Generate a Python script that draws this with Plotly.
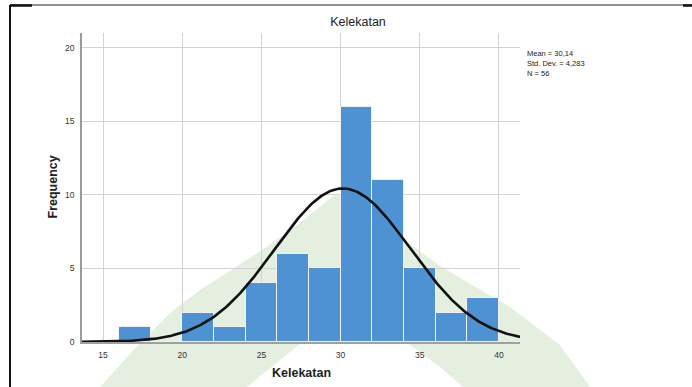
import numpy as np
import plotly.graph_objects as go

# ---- data ----
bin_left = [16, 18, 20, 22, 24, 26, 28, 30, 32, 34, 36, 38]
counts = [1, 0, 2, 1, 4, 6, 5, 16, 11, 5, 2, 3]
bin_width = 2
mean_val = 30.14
sd_val = 4.283
n_val = 56
x_ticks = [15, 20, 25, 30, 35, 40]
y_ticks = [0, 5, 10, 15, 20]

W, H = 692, 387
L, R, T, B = 82, 172, 33, 45
pw, ph = W - L - R, H - T - B


def px(xp):
    return (xp - L) / pw


def py(yp):
    return (H - B - yp) / ph


centers = [b + bin_width / 2 for b in bin_left]

xmin, xmax = 13.67, 41.33
xc = np.linspace(xmin, xmax, 300)
yc = n_val * bin_width * np.exp(-0.5 * ((xc - mean_val) / sd_val) ** 2) / (sd_val * np.sqrt(2 * np.pi))

FONT = "Liberation Sans, Arial, sans-serif"

fig = go.Figure()
fig.add_trace(go.Bar(
    x=centers, y=counts, width=bin_width,
    marker=dict(color="#4f92d3", line=dict(color="#f2f2f2", width=1)),
    showlegend=False, hoverinfo="x+y",
))
fig.add_trace(go.Scatter(
    x=xc, y=yc, mode="lines",
    line=dict(color="#111111", width=2.6),
    showlegend=False, hoverinfo="skip",
))

# watermark (light green arch), pixel outline converted to paper coords
outer = [(100, 387), (140, 343), (170, 313), (200, 290), (262, 250), (300, 223),
         (333, 196), (342, 192), (351, 197), (372, 214), (402, 238), (440, 266),
         (510, 307), (560, 345), (590, 387)]
inner = [(463, 387), (440, 367), (403, 340), (350, 319), (340, 317), (330, 320),
         (310, 336), (290, 352), (247, 387)]
pts = outer + inner
path = "M " + " L ".join(f"{px(a):.4f},{py(b):.4f}" for a, b in pts) + " Z"

shapes = [
    dict(type="path", xref="paper", yref="paper", path=path,
         fillcolor="#e4efe0", line=dict(width=0), layer="below"),
    # frame lines
    dict(type="line", xref="paper", yref="paper", x0=px(10), x1=px(692), y0=py(5), y1=py(5),
         line=dict(color="#222222", width=1.2), layer="above"),
    dict(type="line", xref="paper", yref="paper", x0=px(10), x1=px(32), y0=py(5.5), y1=py(5.5),
         line=dict(color="#111111", width=2.5), layer="above"),
    dict(type="line", xref="paper", yref="paper", x0=px(683), x1=px(692), y0=py(5.5), y1=py(5.5),
         line=dict(color="#111111", width=2.5), layer="above"),
    dict(type="line", xref="paper", yref="paper", x0=px(10), x1=px(10), y0=py(5), y1=py(387),
         line=dict(color="#111111", width=2), layer="above"),
]

fig.update_layout(
    width=W, height=H,
    margin=dict(l=L, r=R, t=T, b=B, pad=0),
    paper_bgcolor="white", plot_bgcolor="rgba(0,0,0,0)",
    font=dict(family=FONT, size=8, color="#333333"),
    bargap=0,
    shapes=shapes,
    title=dict(text="Kelekatan", x=px(358), xref="paper", xanchor="center",
               y=1 - 22 / H, yref="container", yanchor="middle",
               font=dict(family=FONT, size=12.5, color="#222222")),
    xaxis=dict(range=[xmin, xmax], tickvals=x_ticks, ticks="", showgrid=True,
               gridcolor="#d2d2d2", gridwidth=1, zeroline=False,
               showline=True, linecolor="#a0a0a0", linewidth=2,
               tickfont=dict(size=8.5, color="#333333"), ticklabelstandoff=4),
    yaxis=dict(range=[0, 21], tickvals=y_ticks, ticks="", showgrid=True,
               gridcolor="#d2d2d2", gridwidth=1, zeroline=False,
               showline=True, linecolor="#9a9a9a", linewidth=1.5,
               tickfont=dict(size=8.5, color="#333333"), ticklabelstandoff=4),
    annotations=[
        dict(text="<b>Kelekatan</b>", xref="paper", yref="paper", x=0.5, y=0,
             yshift=-31, xanchor="center", yanchor="middle", showarrow=False,
             font=dict(family=FONT, size=12.5, color="#222222")),
        dict(text="<b>Frequency</b>", xref="paper", yref="paper", x=0, y=0.5,
             xshift=-30, xanchor="center", yanchor="middle", textangle=-90, showarrow=False,
             font=dict(family=FONT, size=12.5, color="#222222")),
        dict(text=f"Mean = {str(mean_val).replace('.', ',')}<br>Std. Dev. = {str(sd_val).replace('.', ',')}<br>N = {n_val}",
             xref="paper", yref="paper", x=1, xshift=5, y=py(47), xanchor="left", yanchor="top",
             align="left", showarrow=False,
             font=dict(family=FONT, size=7.5, color="#222222")),
    ],
)

fig.write_html("out.html", config={"displayModeBar": False},
               post_script="document.body.style.margin='0px';document.body.style.overflow='hidden';")
